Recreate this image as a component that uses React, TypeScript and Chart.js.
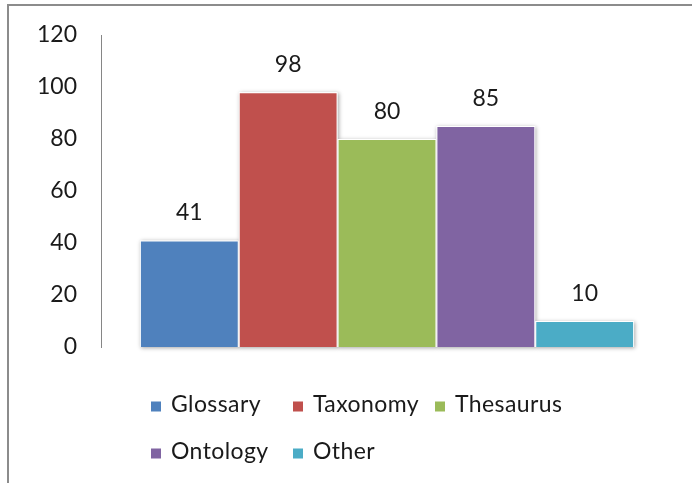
import React, { useEffect, useRef } from "react";
import { Chart, registerables } from "chart.js";

Chart.register(...registerables);

const categories = [""];
const seriesNames = ["Glossary", "Taxonomy", "Thesaurus", "Ontology", "Other"];
const seriesValues = [41, 98, 80, 85, 10];
const seriesColors = ["#4F81BD", "#C0504D", "#9BBB59", "#8064A2", "#4BACC6"];
const yTicks = [0, 20, 40, 60, 80, 100, 120];

const FONT = "Lato, 'Open Sans', sans-serif";
const FONT_SIZE = 23;
const TEXT_COLOR = "#1a1a1a";

const framePlugin = {
  id: "frame",
  beforeDraw(chart: any) {
    const ctx = chart.ctx;
    ctx.save();
    ctx.fillStyle = "#ffffff";
    ctx.fillRect(0, 0, chart.width, chart.height);
    ctx.fillStyle = "#8c8c8c";
    ctx.fillRect(7, 4, chart.width - 7, 2);
    ctx.fillRect(7, 4, 2, chart.height - 4);
    ctx.restore();
  },
};

const shadowPlugin = {
  id: "barShadow",
  beforeDatasetsDraw(chart: any) {
    const ctx = chart.ctx;
    ctx.save();
    ctx.shadowColor = "rgba(0,0,0,0.35)";
    ctx.shadowBlur = 4;
    ctx.shadowOffsetX = 1;
    ctx.shadowOffsetY = 1;
    ctx.fillStyle = "#ffffff";
    chart.data.datasets.forEach((_: any, i: number) => {
      const meta = chart.getDatasetMeta(i);
      meta.data.forEach((el: any) => {
        const w = el.width;
        ctx.fillRect(el.x - w / 2, el.y, w, el.base - el.y);
      });
    });
    ctx.restore();
  },
};

const labelPlugin = {
  id: "valueLabels",
  afterDatasetsDraw(chart: any) {
    const ctx = chart.ctx;
    ctx.save();
    ctx.font = `${FONT_SIZE}px ${FONT}`;
    ctx.fillStyle = TEXT_COLOR;
    ctx.textAlign = "center";
    ctx.textBaseline = "alphabetic";
    chart.data.datasets.forEach((ds: any, i: number) => {
      const meta = chart.getDatasetMeta(i);
      meta.data.forEach((el: any, j: number) => {
        ctx.fillText(String(ds.data[j]), el.x, el.y - 20);
      });
    });
    ctx.restore();
  },
};

const legendPlugin = {
  id: "customLegend",
  afterDraw(chart: any) {
    const ctx = chart.ctx;
    ctx.save();
    ctx.font = `${FONT_SIZE}px ${FONT}`;
    ctx.textBaseline = "alphabetic";
    ctx.textAlign = "left";
    try {
      (ctx as any).letterSpacing = "0.4px";
    } catch (e) {}
    const box = 10;
    const boxGap = 10;
    const perRow = 3;
    const colW = 142;
    const startX = 151;
    const rowTop = [401.5, 448.5];
    chart.data.datasets.forEach((ds: any, i: number) => {
      const col = i % perRow;
      const row = Math.floor(i / perRow);
      const x = startX + col * colW;
      const y = rowTop[row];
      ctx.fillStyle = ds.backgroundColor;
      ctx.fillRect(x, y, box, box);
      ctx.fillStyle = TEXT_COLOR;
      ctx.fillText(ds.label, x + box + boxGap, y + 10);
    });
    ctx.restore();
  },
};

export default function App() {
  const ref = useRef<HTMLCanvasElement>(null);
  useEffect(() => {
    if (!ref.current) return;
    const chart = new Chart(ref.current, {
      type: "bar",
      data: {
        labels: categories,
        datasets: seriesNames.map((name, i) => ({
          label: name,
          data: [seriesValues[i]],
          backgroundColor: seriesColors[i],
          borderColor: "#ffffff",
          borderWidth: 1,
          categoryPercentage: 0.864,
          barPercentage: 1,
        })),
      },
      options: {
        animation: false,
        responsive: false,
        devicePixelRatio: 1,
        layout: { padding: { left: 20, right: 19, top: 35, bottom: 136 } },
        plugins: {
          legend: { display: false },
          tooltip: { enabled: false },
        },
        scales: {
          x: { display: false },
          y: {
            min: 0,
            max: 120,
            afterBuildTicks(scale: any) {
              scale.ticks = yTicks.map((v) => ({ value: v }));
            },
            afterFit(scale: any) {
              scale.width = 81;
              scale.paddingTop = 0;
              scale.paddingBottom = 0;
            },
            grid: { display: false, drawTicks: false },
            border: { display: true, color: "#868686", width: 1 },
            ticks: {
              padding: 24,
              color: TEXT_COLOR,
              font: { family: FONT, size: FONT_SIZE },
            },
          },
        },
      },
      plugins: [framePlugin, shadowPlugin, labelPlugin, legendPlugin],
    });
    return () => chart.destroy();
  }, []);
  return (
    <div style={{ position: "fixed", left: 0, top: 0, width: 692, height: 483 }}>
      <canvas ref={ref} width={692} height={483} style={{ display: "block" }} />
    </div>
  );
}
